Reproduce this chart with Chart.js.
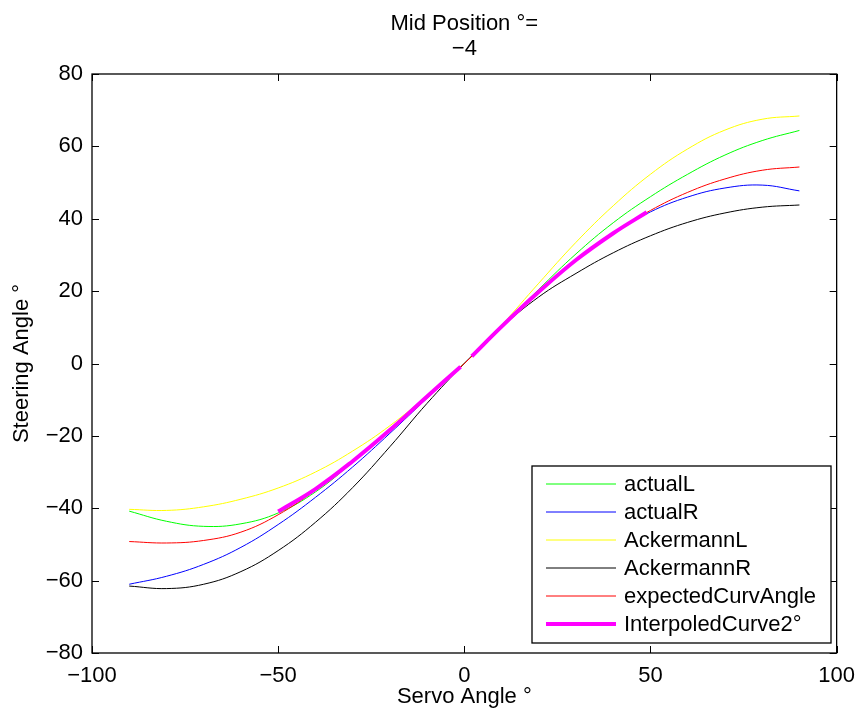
<!DOCTYPE html>
<html>
<head>
<meta charset="utf-8">
<script src="https://cdn.jsdelivr.net/npm/chart.js@4/dist/chart.umd.min.js"></script>
<style>
  html, body { margin: 0; padding: 0; background: #ffffff; }
  #wrap { width: 865px; height: 719px; }
</style>
</head>
<body>
<div id="wrap"><canvas id="c" width="865" height="719"></canvas></div>
<script>
// Servo angle samples (degrees) shared by the five model curves
const servoAngles = [-90, -80, -70, -60, -50, -40, -30, -20, -10, 0, 10, 20, 30, 40, 50, 60, 70, 80, 90];

// Steering angle (degrees) for each curve
const actualL    = [-40.8, -43.6, -45.0, -44.3, -41.3, -35.5, -27.3, -18.5, -9.3, 0, 10.3, 20.5, 30.3, 38.9, 46.1, 52.3, 57.6, 61.6, 64.4];
const actualR    = [-61.0, -58.8, -55.5, -50.8, -44.5, -37.0, -28.6, -19.3, -9.6, 0, 10.3, 19.9, 28.7, 36.0, 41.9, 46.0, 48.5, 49.3, 47.7];
const ackermannL = [-40.3, -40.6, -39.6, -37.5, -34.4, -30.0, -24.2, -17.2, -8.9, 0, 10.6, 22.2, 33.5, 43.6, 52.3, 59.3, 64.5, 67.5, 68.4];
const ackermannR = [-61.5, -62.2, -61.0, -57.5, -51.7, -43.9, -34.3, -23.0, -11.0, 0, 10.0, 18.4, 24.9, 30.6, 35.3, 39.0, 41.6, 43.2, 43.8];
const expectedCurvAngle = [-49.2, -49.6, -48.9, -46.6, -41.8, -35.0, -27.0, -18.4, -9.1, 0, 10.2, 19.8, 28.6, 36.0, 42.3, 47.3, 51.0, 53.4, 54.3];

// Interpolated curve, defined on its own servo range (gap around zero)
const interpAngles = [-50, -40, -30, -20, -10, -1, 0, 2, 10, 20, 30, 40, 49];
const interpCurve  = [-40.9, -34.7, -27.0, -18.4, -9.1, -0.9, null, 2.0, 10.2, 19.8, 28.6, 36.0, 41.8];

// Axis ticks
const xTicks = [-100, -50, 0, 50, 100];
const yTicks = [-80, -60, -40, -20, 0, 20, 40, 60, 80];

const FONT = "'Liberation Sans', Arial, Helvetica, sans-serif";
const pts = (xs, ys) => xs.map((x, i) => ({ x: x, y: ys[i] }));
const minus = v => String(v).replace('-', '\u2212');

const series = [
  { label: 'actualL', xs: servoAngles, ys: actualL, color: '#00ff00', width: 1 },
  { label: 'actualR', xs: servoAngles, ys: actualR, color: '#0000ff', width: 1 },
  { label: 'AckermannL', xs: servoAngles, ys: ackermannL, color: '#ffff00', width: 1 },
  { label: 'AckermannR', xs: servoAngles, ys: ackermannR, color: '#000000', width: 1 },
  { label: 'expectedCurvAngle', xs: servoAngles, ys: expectedCurvAngle, color: '#ff0000', width: 1 },
  { label: 'InterpoledCurve2\u00b0', xs: interpAngles, ys: interpCurve, color: '#ff00ff', width: 4 }
];

// Box frame with inward ticks on all four sides, plus the legend box
const framePlugin = {
  id: 'frameAndLegend',
  afterDatasetsDraw(chart) {
    const { ctx, chartArea: a, scales } = chart;
    const tl = 7;
    ctx.save();
    ctx.strokeStyle = '#000';
    ctx.lineWidth = 1.3;
    ctx.strokeRect(a.left, a.top, a.right - a.left, a.bottom - a.top);
    ctx.lineWidth = 1;
    ctx.beginPath();
    xTicks.forEach(v => {
      const px = Math.round(scales.x.getPixelForValue(v)) + 0.5;
      ctx.moveTo(px, a.bottom); ctx.lineTo(px, a.bottom - tl);
      ctx.moveTo(px, a.top); ctx.lineTo(px, a.top + tl);
    });
    yTicks.forEach(v => {
      const py = Math.round(scales.y.getPixelForValue(v)) + 0.5;
      ctx.moveTo(a.left, py); ctx.lineTo(a.left + tl, py);
      ctx.moveTo(a.right, py); ctx.lineTo(a.right - tl, py);
    });
    ctx.stroke();

    // legend
    const lx = 532, ly = 466, lw = 299, lh = 177;
    ctx.fillStyle = '#ffffff';
    ctx.fillRect(lx, ly, lw, lh);
    ctx.lineWidth = 1.3;
    ctx.strokeStyle = '#000';
    ctx.strokeRect(lx, ly, lw, lh);
    ctx.font = '22px ' + FONT;
    ctx.textBaseline = 'middle';
    ctx.textAlign = 'left';
    series.forEach((s, i) => {
      const y = 484 + i * 28;
      ctx.strokeStyle = s.color;
      ctx.lineWidth = s.width;
      ctx.beginPath();
      ctx.moveTo(546, y); ctx.lineTo(616, y);
      ctx.stroke();
      ctx.fillStyle = '#000';
      ctx.fillText(s.label, 624, y + 1);
    });
    ctx.restore();
  }
};

new Chart(document.getElementById('c'), {
  type: 'line',
  data: {
    datasets: series.map((s, i) => ({
      label: s.label,
      data: pts(s.xs, s.ys),
      borderColor: s.color,
      backgroundColor: s.color,
      borderWidth: s.width,
      pointRadius: 0,
      tension: 0.4,
      fill: false,
      spanGaps: false,
      order: series.length - i
    }))
  },
  options: {
    responsive: false,
    animation: false,
    devicePixelRatio: 1,
    layout: { padding: { left: 0, right: 25, top: 0, bottom: 0 } },
    plugins: {
      legend: { display: false },
      tooltip: { enabled: false },
      title: {
        display: true,
        fullSize: false,
        text: ['Mid Position \u00b0=', '\u22124'],
        color: '#000',
        font: { family: FONT, size: 22, weight: 'normal', lineHeight: 1.15 },
        padding: { top: 11.4, bottom: 12 }
      }
    },
    scales: {
      x: {
        type: 'linear',
        min: -100, max: 100,
        afterBuildTicks: s => { s.ticks = xTicks.map(v => ({ value: v })); },
        afterFit: s => { s.height = 66; },
        grid: { display: false, drawTicks: false },
        border: { display: false },
        ticks: {
          color: '#000', padding: 10,
          font: { family: FONT, size: 22 },
          callback: v => minus(v)
        },
        title: {
          display: true, text: 'Servo Angle \u00b0', color: '#000',
          font: { family: FONT, size: 22 },
          padding: { top: 0, bottom: 8.8 }
        }
      },
      y: {
        type: 'linear',
        min: -80, max: 80,
        afterBuildTicks: s => { s.ticks = yTicks.map(v => ({ value: v })); },
        afterFit: s => { s.width = 92; },
        grid: { display: false, drawTicks: false },
        border: { display: false },
        ticks: {
          color: '#000', padding: 9,
          font: { family: FONT, size: 22 },
          callback: v => minus(v)
        },
        title: {
          display: true, text: 'Steering Angle \u00b0', color: '#000',
          font: { family: FONT, size: 22 },
          padding: { top: 8.8, bottom: 0 }
        }
      }
    }
  },
  plugins: [framePlugin]
});
</script>
</body>
</html>
